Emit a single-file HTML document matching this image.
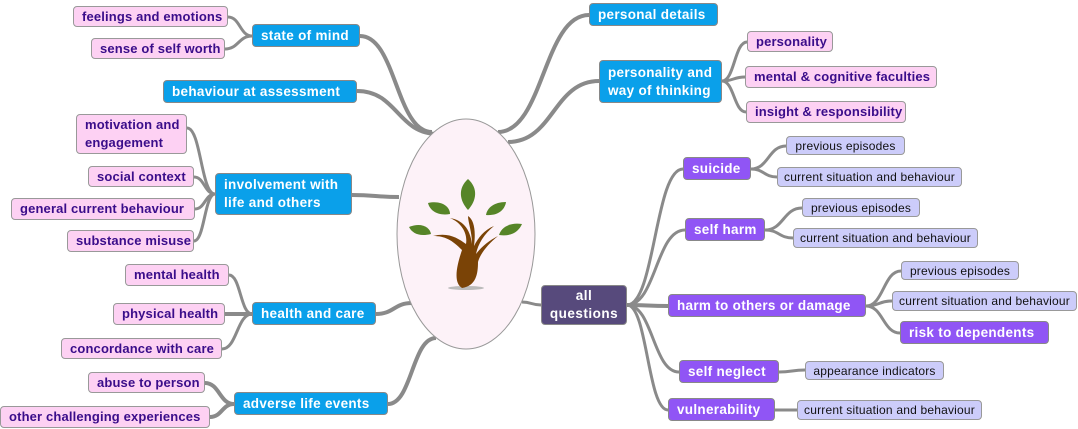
<!DOCTYPE html>
<html><head><meta charset="utf-8"><style>
body{margin:0;width:1078px;height:429px;background:#fff;position:relative;overflow:hidden;font-family:"Liberation Sans",sans-serif}
.n{position:absolute;box-sizing:border-box;border:1px solid #888;border-radius:4px;font-weight:bold;display:flex;align-items:center;padding:0 8px;white-space:nowrap;line-height:18px}
.b{background:#0aa0ea;color:#fff;font-size:13.5px;letter-spacing:0.3px}
.p{background:#fdd1f3;color:#3a0d8a;font-size:13px;letter-spacing:0.15px;border-color:#999}
.v{background:#9055f5;color:#fff;font-size:13.5px;letter-spacing:0.3px}
.l{background:#ccccfa;color:#111;font-weight:normal;font-size:12px;letter-spacing:0.2px;border-color:#999;justify-content:center}
.r{background:#574a7c;color:#fff;font-size:13.5px;justify-content:center;text-align:center;letter-spacing:0.5px}
svg{position:absolute;left:0;top:0}
</style></head><body>
<svg id="links" width="1078" height="429"></svg>
<script>
const nodes=[
["state of mind","b",252,24,108,23],
["behaviour at assessment","b",163,80,194,23],
["involvement with<br>life and others","b",215,173,137,42],
["health and care","b",252,302,124,23],
["adverse life events","b",234,392,154,23],
["feelings and emotions","p",73,6,155,21],
["sense of self worth","p",91,38,134,21],
["motivation and<br>engagement","p",76,114,111,40],
["social context","p",88,166,106,21],
["general current behaviour","p",11,198,184,22],
["substance misuse","p",67,230,127,22],
["mental health","p",125,264,104,22],
["physical health","p",113,303,112,22],
["concordance with care","p",61,338,161,21],
["abuse to person","p",88,372,117,21],
["other challenging experiences","p",0,406,210,22],
["personal details","b",589,3,129,23],
["personality and<br>way of thinking","b",599,60,123,43],
["personality","p",747,31,86,21],
["mental &amp; cognitive faculties","p",745,66,192,22],
["insight &amp; responsibility","p",746,101,160,22],
["all<br>questions","r",541,285,86,40],
["suicide","v",683,157,68,23],
["previous episodes","l",786,136,119,19],
["current situation and behaviour","l",777,167,185,20],
["self harm","v",685,218,80,23],
["previous episodes","l",802,198,118,19],
["current situation and behaviour","l",793,228,185,20],
["harm to others or damage","v",668,294,198,23],
["previous episodes","l",901,261,118,19],
["current situation and behaviour","l",892,291,185,20],
["risk to dependents","v",900,321,149,23],
["self neglect","v",679,360,100,23],
["appearance indicators","l",805,361,139,19],
["vulnerability","v",668,398,107,23],
["current situation and behaviour","l",797,400,185,20]
];
const links=[
[360,36,432,132,4],[357,91,438,134,4],[352,195,399,197,4],[376,314,412,303,4],[388,404,436,338,4],
[589,15,498,132,4],[599,81,508,142,4],[541,305,522,302,3],
[252,36,228,17,3],[252,36,225,49,3],
[215,194,187,128,3],[215,194,194,177,3],[215,194,195,209,3],[215,194,194,241,3],
[252,314,229,275,3],[252,314,225,314,4],[252,314,222,349,3],
[234,404,205,383,4],[234,404,210,417,4],
[722,81,747,42,3],[722,81,745,77,3],[722,81,746,112,3],
[627,305,683,169,3],[627,305,685,230,3],[627,305,668,306,4],[627,305,679,372,3],[627,305,668,410,3],
[751,169,786,146,3],[751,169,777,177,3],
[765,230,802,208,3],[765,230,793,238,3],
[866,306,901,271,3],[866,306,892,301,3],[866,306,900,333,3],
[779,372,805,370,3],[775,410,797,410,3]
];
const svg=document.getElementById('links');
const NS='http://www.w3.org/2000/svg';
links.forEach(k=>{
 const [x1,y1,x2,y2,w]=k;const mx=(x1+x2)/2;
 const p=document.createElementNS(NS,'path');
 p.setAttribute('d',`M${x1},${y1} C${mx},${y1} ${mx},${y2} ${x2},${y2}`);
 p.setAttribute('stroke','#8a8a8a');p.setAttribute('stroke-width',w);p.setAttribute('fill','none');
 
 
 svg.appendChild(p);
});
const g=document.createElementNS(NS,'g');
g.innerHTML=`<ellipse cx="466" cy="234" rx="69" ry="115" fill="#fdf2f8" stroke="#999"/>
<ellipse cx="466" cy="288" rx="18" ry="2" fill="#bbb"/>
<path d="M462,288 C452,282 458,262 462,250 C452,240 445,236 433,236 C448,232 458,238 466,244 C468,232 460,222 450,218 C462,220 470,228 472,244 C472,232 468,222 468,216 C474,220 476,230 474,246 C478,238 484,230 494,226 C484,234 478,244 476,254 C482,246 490,240 498,236 C488,244 480,254 478,262 C478,274 476,286 462,288Z" fill="#7a4306"/>
<path d="M468,179 C478,188 477,200 468,210 C459,200 458,188 468,179Z" fill="#568528"/>
<path d="M428,203 C442,200 450,207 450,214 C438,216 430,211 428,203Z" fill="#568528"/>
<path d="M409,227 C421,222 430,227 431,234 C419,237 412,233 409,227Z" fill="#568528"/>
<path d="M506,202 C494,202 487,208 486,215 C499,216 505,209 506,202Z" fill="#568528"/>
<path d="M522,224 C509,222 501,228 499,235 C512,237 519,231 522,224Z" fill="#568528"/>`;


svg.appendChild(g);
nodes.forEach(n=>{
 const d=document.createElement('div');
 d.className='n '+n[1];
 d.style.left=n[2]+'px';d.style.top=n[3]+'px';d.style.width=n[4]+'px';d.style.height=n[5]+'px';
 d.innerHTML=n[0];
 
 
 document.body.appendChild(d);
});
</script>
</body></html>
